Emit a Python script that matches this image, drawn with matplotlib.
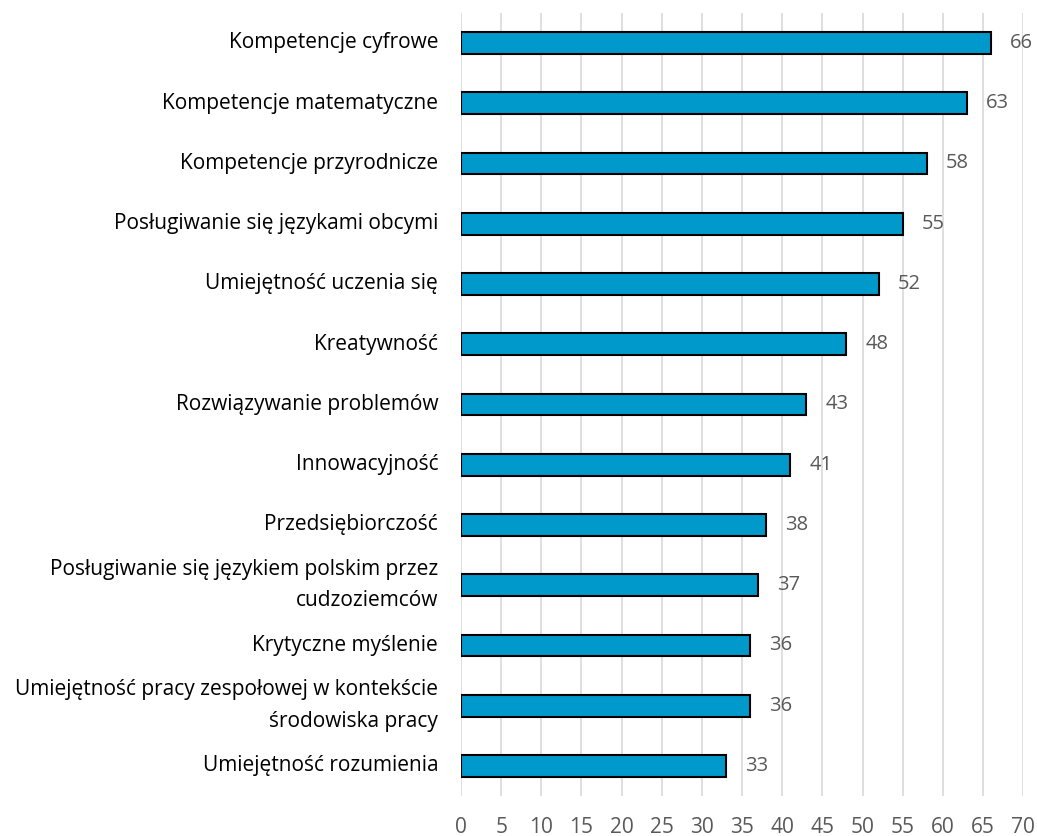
import matplotlib.pyplot as plt

plt.rcParams['font.family'] = ['Open Sans', 'DejaVu Sans']

categories = [
    "Kompetencje cyfrowe",
    "Kompetencje matematyczne",
    "Kompetencje przyrodnicze",
    "Posługiwanie się językami obcymi",
    "Umiejętność uczenia się",
    "Kreatywność",
    "Rozwiązywanie problemów",
    "Innowacyjność",
    "Przedsiębiorczość",
    "Posługiwanie się językiem polskim przez\ncudzoziemców",
    "Krytyczne myślenie",
    "Umiejętność pracy zespołowej w kontekście\nśrodowiska pracy",
    "Umiejętność rozumienia",
]
values = [66, 63, 58, 55, 52, 48, 43, 41, 38, 37, 36, 36, 33]
x_ticks = list(range(0, 75, 5))

fig = plt.figure(figsize=(10.37, 8.36), dpi=100)
ax = fig.add_axes([0.4446, 0.0478, 0.542, 0.9369])

pos = list(range(len(categories)))[::-1]
ax.barh(pos, values, height=0.36, color="#0099CC", edgecolor="black", linewidth=1.5, zorder=3)

# value labels to the right of each bar
for p, v in zip(pos, values):
    ax.text(v + 2.4, p, str(v), va="center", ha="left", fontsize=14.5, color="#595959")

ax.set_yticks(pos)
ax.set_yticklabels(categories, fontsize=15, color="black", linespacing=1.65, va="center")
ax.set_xticks(x_ticks)
ax.set_xticklabels([str(t) for t in x_ticks], fontsize=15, color="#595959")
ax.set_xlim(0, 70)
ax.set_ylim(-0.5, 12.5)

ax.tick_params(axis="y", length=0, pad=16.5)
ax.tick_params(axis="x", length=0, pad=15)
ax.grid(axis="x", color="#D9D9D9", linewidth=1.2, zorder=0)
for s in ax.spines.values():
    s.set_visible(False)

fig.savefig("out.png", dpi=100)
